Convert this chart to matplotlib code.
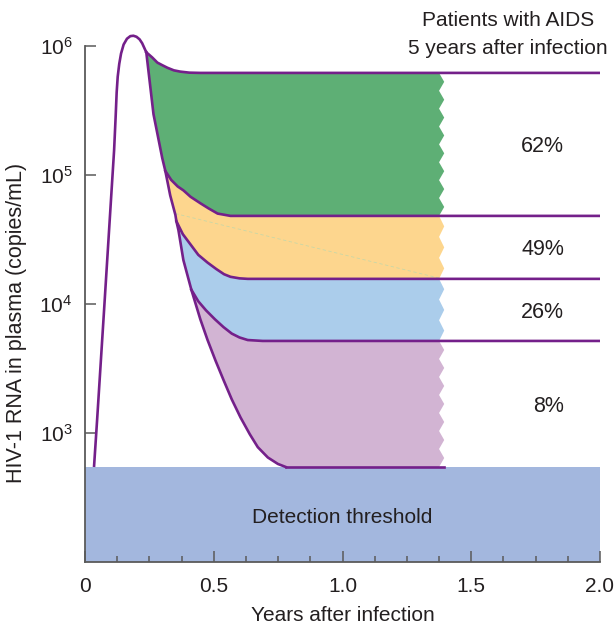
import numpy as np
import matplotlib
matplotlib.use("Agg")
import matplotlib.pyplot as plt

plt.rcParams['font.family'] = ['Liberation Sans', 'DejaVu Sans']
plt.rcParams['mathtext.fontset'] = 'custom'
plt.rcParams['mathtext.rm'] = 'Liberation Sans'
plt.rcParams['mathtext.it'] = 'Liberation Sans:italic'

# ---------------- data (x in years, y as log10 copies/mL) ----------------
threshold_log = 2.736
levels_log = [5.79, 4.682, 4.194, 3.713]          # plateau set-points
percent_labels = ["62%", "49%", "26%", "8%"]

rise_x = [0.035, 0.047, 0.074, 0.101, 0.113, 0.119, 0.123, 0.127, 0.133, 0.140, 0.150, 0.163,
          0.176, 0.188, 0.200, 0.212, 0.222, 0.230, 0.238]
rise_y = [2.736, 3.10, 3.95, 4.81, 5.19, 5.45, 5.64, 5.76, 5.86, 5.94, 6.01, 6.055,
          6.075, 6.078, 6.07, 6.05, 6.02, 5.985, 5.95]

top_x = [0.238, 0.261, 0.281, 0.300, 0.320, 0.345, 0.370, 0.405, 0.448]
top_y = [5.95, 5.91, 5.87, 5.85, 5.83, 5.81, 5.80, 5.792, 5.79]

backbone_x = [0.238, 0.266, 0.300, 0.312, 0.331, 0.351, 0.355, 0.363, 0.382, 0.413,
              0.448, 0.476, 0.507, 0.538, 0.570, 0.604, 0.640, 0.671, 0.710, 0.749, 0.780]
backbone_y = [5.95, 5.47, 5.13, 5.03, 4.84, 4.69, 4.64, 4.57, 4.34, 4.11,
              3.88, 3.72, 3.56, 3.41, 3.26, 3.12, 2.99, 2.89, 2.81, 2.76, 2.736]

branch1_x = [0.312, 0.335, 0.360, 0.382, 0.410, 0.448, 0.480, 0.515, 0.565]
branch1_y = [5.03, 4.96, 4.91, 4.88, 4.83, 4.78, 4.74, 4.70, 4.682]

branch2_x = [0.355, 0.380, 0.410, 0.440, 0.476, 0.510, 0.540, 0.565, 0.600, 0.632]
branch2_y = [4.64, 4.54, 4.46, 4.38, 4.32, 4.27, 4.23, 4.21, 4.198, 4.194]

branch3_x = [0.413, 0.440, 0.470, 0.505, 0.538, 0.570, 0.600, 0.632, 0.690]
branch3_y = [4.11, 4.02, 3.95, 3.88, 3.82, 3.77, 3.74, 3.72, 3.713]

fill_colors = ["#5eaf75", "#fdd68e", "#abcdeb", "#d2b4d3"]
line_color = "#74208a"
thr_color = "#a3b7de"
text_color = "#231f20"
spine_color = "#5a5a5a"

cut_x = 1.375          # where the coloured bands are torn off
tooth_dx = 0.02
tooth_pitch = 0.147    # decades per tooth
x_max = 2.0

# ---------------- figure ----------------
fig = plt.figure(figsize=(6.14, 6.29), dpi=100)
ax = fig.add_axes([85/614, 1 - 562/629, 515/614, 542/629])
ax.set_yscale('log')
ax.set_xlim(0, x_max)
ax.set_ylim(1e2, 10**6.2)

P = lambda v: 10.0 ** np.asarray(v, dtype=float)

def seg(xs, ys, x0, x1):
    xs = np.asarray(xs); ys = np.asarray(ys)
    m = (xs >= x0 - 1e-9) & (xs <= x1 + 1e-9)
    return list(xs[m]), list(ys[m])

def zigzag(y_top, y_bot):
    n = max(2, int(round((y_top - y_bot) / tooth_pitch)))
    ys = np.linspace(y_top, y_bot, 2 * n + 1)
    xs = [cut_x + (tooth_dx if i % 2 == 1 else 0.0) for i in range(len(ys))]
    return xs, list(ys)

# threshold band
ax.fill_between([0, x_max], 1e2, P(threshold_log), color=thr_color, lw=0, zorder=1)

# green band
px, py = list(top_x) + [cut_x], list(top_y) + [levels_log[0]]
zx, zy = zigzag(levels_log[0], levels_log[1])
px += zx; py += zy
bx, by = list(branch1_x) + [cut_x], list(branch1_y) + [levels_log[1]]
px += bx[::-1]; py += by[::-1]
sx, sy = seg(backbone_x, backbone_y, backbone_x[0], branch1_x[0])
px += sx[::-1]; py += sy[::-1]
ax.fill(px, P(py), color=fill_colors[0], lw=0, zorder=2)

# yellow / blue / purple bands
branches = [(branch1_x, branch1_y), (branch2_x, branch2_y), (branch3_x, branch3_y)]
lower_sets = [(branch2_x, branch2_y, levels_log[2]),
              (branch3_x, branch3_y, levels_log[3]),
              (None, None, threshold_log)]
for i in range(3):
    ux, uy = branches[i]
    upper_level = levels_log[i + 1]
    lx, ly, lower_level = lower_sets[i]
    if lx is None:
        sx, sy = seg(backbone_x, backbone_y, ux[0], backbone_x[-1])
        px, py = list(sx), list(sy)
    else:
        sx, sy = seg(backbone_x, backbone_y, ux[0], lx[0])
        px, py = list(sx) + list(lx[1:]), list(sy) + list(ly[1:])
    px += [cut_x]; py += [lower_level]
    zx, zy = zigzag(upper_level, lower_level)
    px += zx[::-1]; py += zy[::-1]
    px += list(ux)[::-1]; py += list(uy)[::-1]
    ax.fill(px, P(py), color=fill_colors[i + 1], lw=0, zorder=2)

# faint dashed guide in the yellow band
ax.plot([0.351, cut_x], P([4.70, 4.20]), color="#c9d6a6", lw=0.6,
        ls=(0, (4, 3)), zorder=2.2)

# purple outlines
lw = 1.9
ax.plot(rise_x, P(rise_y), color=line_color, lw=lw, zorder=4, solid_capstyle='butt',
        solid_joinstyle='round')
ax.plot(list(top_x) + [x_max], P(list(top_y) + [levels_log[0]]), color=line_color, lw=lw,
        zorder=4, solid_joinstyle='round')
ax.plot(backbone_x, P(backbone_y), color=line_color, lw=lw, zorder=4, solid_joinstyle='round')
for (bxs, bys), lev in zip(branches, levels_log[1:]):
    ax.plot(list(bxs) + [x_max], P(list(bys) + [lev]), color=line_color, lw=lw, zorder=4,
            solid_joinstyle='round')
ax.plot([backbone_x[-1], cut_x + tooth_dx], P([threshold_log, threshold_log]),
        color=line_color, lw=lw, zorder=4)

# percentages
bounds = list(levels_log) + [threshold_log]
for i, lab in enumerate(percent_labels):
    ymid = 0.5 * (bounds[i] + bounds[i + 1])
    ax.text(1.86, P(ymid), lab, ha='right', va='center_baseline', fontsize=15.5,
            color=text_color)

ax.text(1.0, P(2.341), "Detection threshold", ha='center', va='center',
        fontsize=15, color=text_color)

fig.text(508/614, 1 - 20/629, "Patients with AIDS", ha='center', va='center',
         fontsize=15, color=text_color)
fig.text(508/614, 1 - 48/629, "5 years after infection", ha='center', va='center',
         fontsize=15, color=text_color)

# axes styling
for s in ['top', 'right']:
    ax.spines[s].set_visible(False)
for s in ['left', 'bottom']:
    ax.spines[s].set_color(spine_color)
    ax.spines[s].set_linewidth(1.3)
    ax.spines[s].set_zorder(3)
ax.spines['left'].set_bounds(1e2, 1e6)

ax.set_yticks([1e3, 1e4, 1e5, 1e6])
ax.set_yticklabels([r"$10^3$", r"$10^4$", r"$10^5$", r"$10^6$"])
ax.yaxis.set_minor_locator(matplotlib.ticker.NullLocator())
ax.set_xticks([0, 0.5, 1.0, 1.5, 2.0])
ax.set_xticklabels(["0", "0.5", "1.0", "1.5", "2.0"])
ax.set_xticks(np.arange(0, 2.0001, 0.125), minor=True)
ax.tick_params(axis='both', which='major', direction='in', length=8, width=1.1,
               color=spine_color, labelsize=15, labelcolor=text_color, pad=11)
ax.tick_params(axis='x', which='minor', direction='in', length=4.5, width=1.1,
               color=spine_color)
ax.tick_params(axis='y', pad=9)

ax.set_xlabel("Years after infection", fontsize=15, color=text_color, labelpad=7)
ax.set_ylabel("HIV-1 RNA in plasma (copies/mL)", fontsize=15.5, color=text_color)
ax.yaxis.set_label_coords(-(85 - 27) / 515, (562 - 323) / 542)

fig.savefig("out.png", dpi=100)
